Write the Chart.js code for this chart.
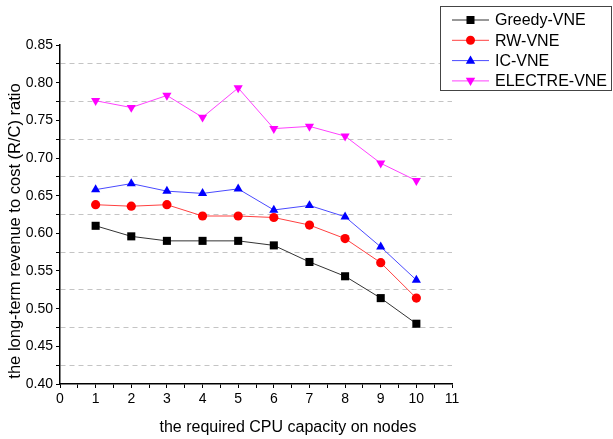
<!DOCTYPE html>
<html>
<head>
<meta charset="utf-8">
<script src="https://cdn.jsdelivr.net/npm/chart.js@4"></script>
<style>
  html, body { margin: 0; padding: 0; background: #fff; }
  #wrap { width: 613px; height: 439px; }
</style>
</head>
<body>
<div id="wrap"><canvas id="rcChart" width="613" height="439"></canvas></div>
<script>
// Data
const cpuCapacity = [1, 2, 3, 4, 5, 6, 7, 8, 9, 10];
const greedyVNE = [0.610, 0.596, 0.590, 0.590, 0.590, 0.584, 0.562, 0.543, 0.514, 0.480];
const rwVNE = [0.638, 0.636, 0.638, 0.623, 0.623, 0.621, 0.611, 0.593, 0.561, 0.514];
const icVNE = [0.658, 0.666, 0.656, 0.653, 0.659, 0.631, 0.637, 0.622, 0.582, 0.538];
const electreVNE = [0.776, 0.767, 0.783, 0.754, 0.793, 0.739, 0.742, 0.729, 0.693, 0.670];

const xTitle = 'the required CPU capacity on nodes';
const yTitle = 'the long-term revenue to cost (R/C) ratio';

const FONT = '"Liberation Sans", Arial, sans-serif';

function toPoints(values) {
  return cpuCapacity.map((x, i) => ({ x: x, y: values[i] }));
}

function isMajor(value, step) {
  const r = Math.round(value * 1000);
  return r % Math.round(step * 1000) === 0;
}

// Axis titles sit a little off-centre in the original, so draw them by hand
const axisTitles = {
  id: 'axisTitles',
  afterDraw(chart) {
    const ctx = chart.ctx;
    ctx.save();
    ctx.fillStyle = '#000';
    ctx.textAlign = 'center';
    ctx.textBaseline = 'middle';
    ctx.font = '16px ' + FONT;
    ctx.fillText(xTitle, 288, 428);
    ctx.translate(15, 231);
    ctx.rotate(-Math.PI / 2);
    ctx.font = '16.5px ' + FONT;
    ctx.fillText(yTitle, 0, 0);
    ctx.restore();
  }
};

// Legend drawn in a box at the top right, like the original
const boxLegend = {
  id: 'boxLegend',
  afterDraw(chart) {
    const ctx = chart.ctx;
    const x0 = 440, y0 = 6, w = 172, h = 85;
    ctx.save();
    ctx.fillStyle = '#fff';
    ctx.fillRect(x0, y0, w, h);
    ctx.strokeStyle = '#444';
    ctx.lineWidth = 1;
    ctx.strokeRect(x0 + 0.5, y0 + 0.5, w - 1, h - 1);
    ctx.font = '16px ' + FONT;
    ctx.textBaseline = 'middle';
    chart.data.datasets.forEach((ds, i) => {
      const y = 20 + i * 20.3;
      ctx.strokeStyle = ds.legendLine;
      ctx.lineWidth = 1;
      ctx.beginPath();
      ctx.moveTo(452, y);
      ctx.lineTo(489, y);
      ctx.stroke();
      ctx.fillStyle = ds.pointBackgroundColor;
      drawMarker(ctx, ds.pointStyle, ds.pointRotation || 0, 470.5, y);
      ctx.fillStyle = '#000';
      ctx.fillText(ds.label, 495, y + 1);
    });
    ctx.restore();
  }
};

function drawMarker(ctx, style, rot, x, y) {
  ctx.beginPath();
  if (style === 'rect') {
    ctx.rect(x - 4, y - 4, 8, 8);
  } else if (style === 'circle') {
    ctx.arc(x, y, 4.5, 0, Math.PI * 2);
  } else {
    const s = rot ? -1 : 1;
    ctx.moveTo(x, y - 5 * s);
    ctx.lineTo(x + 4.7, y + 3.2 * s);
    ctx.lineTo(x - 4.7, y + 3.2 * s);
    ctx.closePath();
  }
  ctx.fill();
}

function series(label, values, color, line, style, radius, rotation) {
  return {
    label: label,
    data: toPoints(values),
    borderColor: line,
    legendLine: line,
    borderWidth: 1,
    pointStyle: style,
    pointRadius: radius,
    pointRotation: rotation,
    pointBackgroundColor: color,
    pointBorderColor: color,
    pointBorderWidth: 0,
    tension: 0,
    fill: false
  };
}

new Chart(document.getElementById('rcChart'), {
  type: 'line',
  data: {
    datasets: [
      series('Greedy-VNE', greedyVNE, '#000000', '#333333', 'rect', 5.7, 0),
      series('RW-VNE', rwVNE, '#ff0000', '#ff4040', 'circle', 4.6, 0),
      series('IC-VNE', icVNE, '#0000ff', '#4a4aff', 'triangle', 5.3, 0),
      series('ELECTRE-VNE', electreVNE, '#ff00ff', '#ff40ff', 'triangle', 5.3, 180)
    ]
  },
  options: {
    responsive: false,
    animation: false,
    layout: { padding: { left: 0, top: 45, right: 161, bottom: 0 } },
    plugins: {
      legend: { display: false },
      tooltip: { enabled: false }
    },
    scales: {
      x: {
        type: 'linear',
        min: 0,
        max: 11,
        afterFit(scale) { scale.height = 55; },
        ticks: {
          stepSize: 0.5,
          autoSkip: false,
          maxRotation: 0,
          padding: 3,
          color: '#000',
          font: { family: FONT, size: 14 },
          callback: (v) => (isMajor(v, 1) ? String(Math.round(v)) : '')
        },
        grid: { drawOnChartArea: false, tickLength: 4, tickColor: '#000', tickWidth: 1 },
        border: { color: '#000', width: 1.5 }
      },
      y: {
        min: 0.40,
        max: 0.85,
        afterFit(scale) { scale.width = 60; },
        ticks: {
          stepSize: 0.025,
          autoSkip: false,
          padding: 3,
          color: '#000',
          font: { family: FONT, size: 14 },
          callback: (v) => (isMajor(v, 0.05) ? v.toFixed(2) : '')
        },
        grid: {
          tickLength: 4,
          tickColor: '#000',
          tickWidth: 1,
          lineWidth: 1,
          color: (ctx) => (ctx.tick && !isMajor(ctx.tick.value, 0.05) ? '#c4c4c4' : 'rgba(0,0,0,0)')
        },
        border: { color: '#000', width: 1.5, dash: [5, 4] }
      }
    }
  },
  plugins: [axisTitles, boxLegend]
});
</script>
</body>
</html>
